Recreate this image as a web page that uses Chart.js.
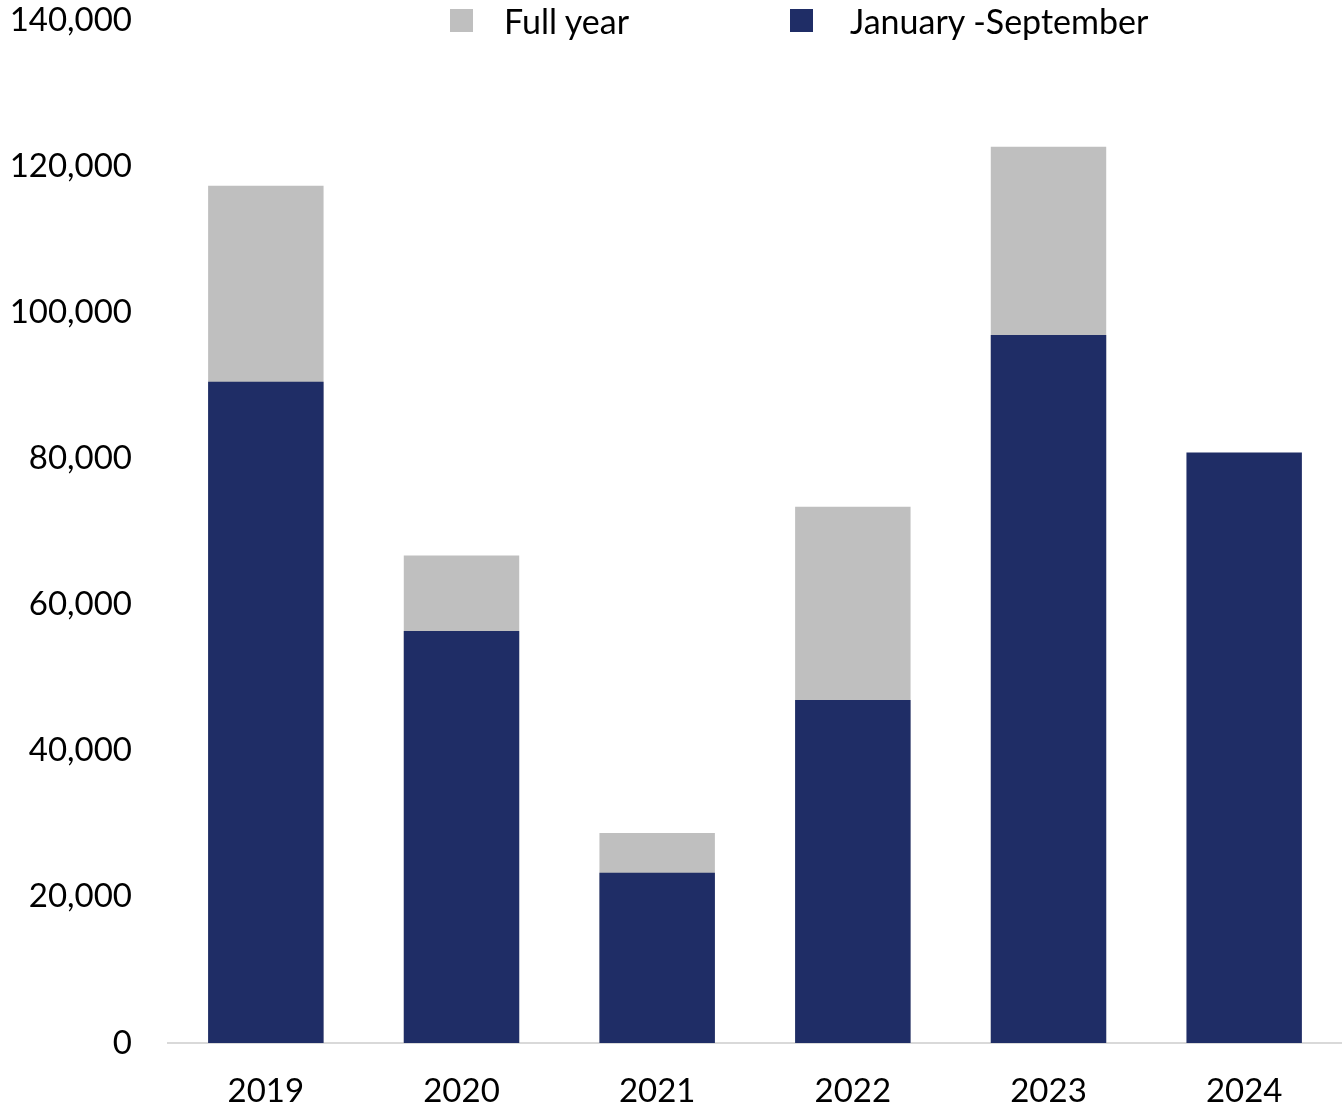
<!DOCTYPE html>
<html>
<head>
<meta charset="utf-8">
<script src="https://cdn.jsdelivr.net/npm/chart.js@4"></script>
<style>
  html, body { margin: 0; padding: 0; background: #fff; }
  #wrap { position: relative; width: 1342px; height: 1111px; }
  #legend { position: absolute; top: 0; left: 0; width: 1342px; height: 40px; font-family: Lato, sans-serif; font-size: 34px; color: #000; }
  .legend-item { position: absolute; top: 0; height: 40px; display: flex; align-items: center; }
  .legend-box { width: 23px; height: 23px; }
  .legend-text { white-space: nowrap; }
</style>
</head>
<body>
<div id="wrap">
  <canvas id="chart" width="1342" height="1111"></canvas>
  <div id="legend"></div>
</div>
<script>
  const years = ['2019', '2020', '2021', '2022', '2023', '2024'];
  const fullYear = [117300, 66700, 28750, 73400, 122650, null];
  const janSep = [90500, 56400, 23300, 46950, 96900, 80800];
  const yTicks = [0, 20000, 40000, 60000, 80000, 100000, 120000, 140000];

  const GREY = '#BFBFBF';
  const NAVY = '#1F2D66';
  const FONT = { family: 'Lato, sans-serif', size: 33 };

  // html legend, drawn from the dataset labels
  const legendItems = [
    ['Full year', GREY, 450, 31],
    ['January -September', NAVY, 790, 37]
  ];
  document.getElementById('legend').innerHTML = legendItems.map(([label, color, left, gap]) => `
    <div class="legend-item" style="left:${left}px">
      <span class="legend-box" style="background:${color}"></span>
      <span class="legend-text" style="margin-left:${gap}px">${label}</span>
    </div>
  `).join('');

  new Chart(document.getElementById('chart'), {
    type: 'bar',
    data: {
      labels: years,
      datasets: [
        {
          label: 'January -September',
          data: janSep,
          backgroundColor: NAVY,
          grouped: false,
          barPercentage: 0.59,
          categoryPercentage: 1
        },
        {
          label: 'Full year',
          data: fullYear,
          backgroundColor: GREY,
          grouped: false,
          barPercentage: 0.59,
          categoryPercentage: 1
        }
      ]
    },
    options: {
      responsive: false,
      animation: false,
      devicePixelRatio: 1,
      layout: { padding: { top: 20, left: 0, right: 0, bottom: 0 } },
      plugins: { legend: { display: false }, tooltip: { enabled: false } },
      scales: {
        x: {
          grid: { display: false, drawTicks: false },
          border: { display: true, color: '#D9D9D9', width: 2 },
          ticks: { color: '#000', font: FONT, padding: 29 },
          afterFit(scale) {
            scale.height = 68;
            scale.paddingLeft = 0;
            scale.paddingRight = 0;
          }
        },
        y: {
          min: 0,
          max: 140000,
          grid: { display: false, drawTicks: false },
          border: { display: false },
          afterBuildTicks(scale) { scale.ticks = yTicks.map(v => ({ value: v })); },
          ticks: {
            color: '#000',
            font: FONT,
            padding: 36,
            callback: v => v.toLocaleString('en-US')
          },
          afterFit(scale) {
            scale.width = 168;
            // keep the tick padding from pushing the plot down
            scale.paddingTop = 20;
            scale.paddingBottom = 0;
          }
        }
      }
    }
  });
</script>
</body>
</html>
